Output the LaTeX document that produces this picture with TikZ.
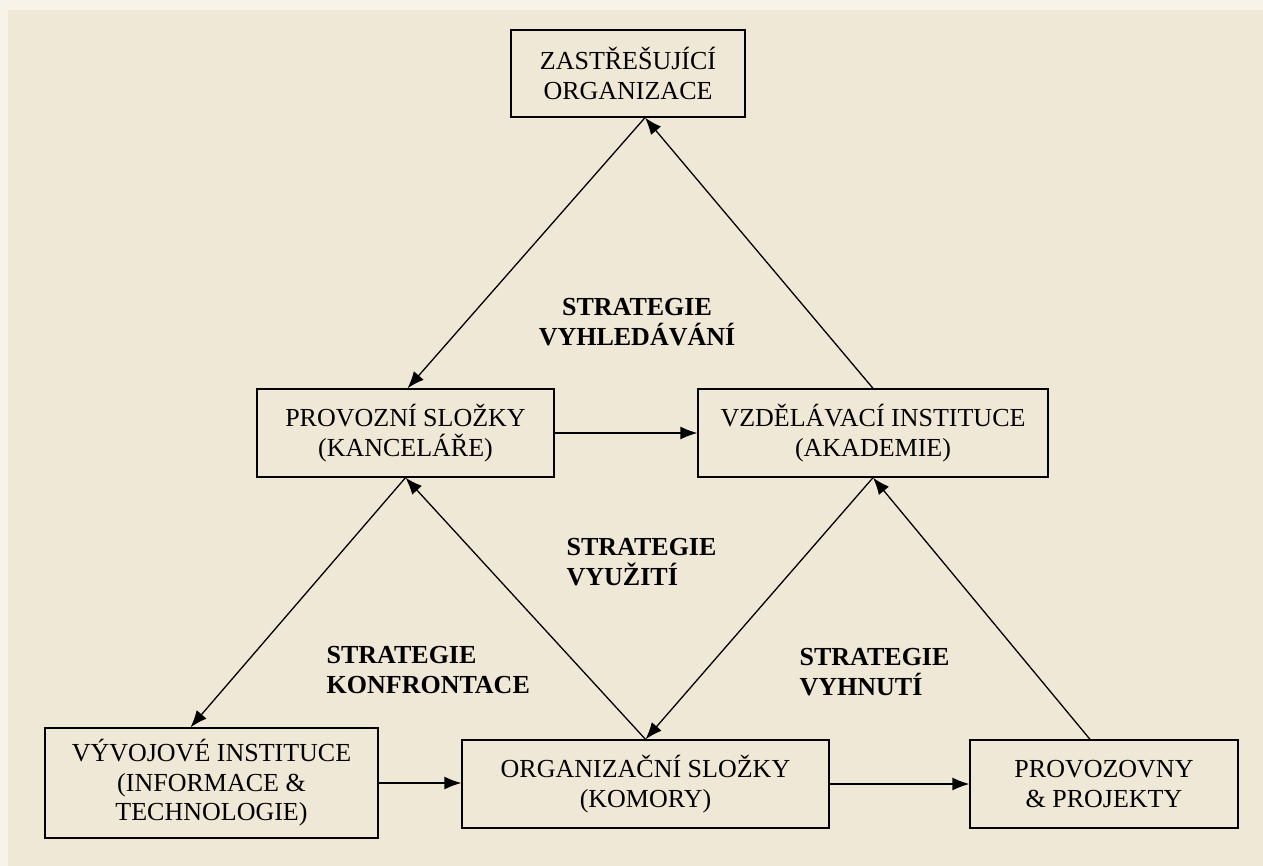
\documentclass[tikz,border=0pt]{standalone}
\usepackage{fontspec}
\setmainfont{Liberation Serif}
\usepackage{tikz}
\usetikzlibrary{arrows.meta}
\definecolor{edgepaper}{RGB}{248,243,232}
\definecolor{parchment}{RGB}{240,232,214}

\begin{document}
\begin{tikzpicture}[x=1pt, y=-1pt, line width=1.3pt,
    every node/.style={font=\fontsize{26}{29.5}\selectfont, inner sep=0pt},
    unit/.style={draw, align=center},
    strategy/.style={font=\fontsize{26}{30}\selectfont\bfseries},
    link/.style={-{Latex[length=17pt,width=13pt]}}]
    \useasboundingbox (0,0) rectangle (1263,866);
    \fill[edgepaper] (0,0) rectangle (1263,866);
    \fill[parchment] (8,10) rectangle (1263,866);
    \node[unit, minimum width=234pt, minimum height=87pt] (umbrella) at (628,73.5) {ZASTŘEŠUJÍCÍ\\ORGANIZACE};
    \node[unit, minimum width=297pt, minimum height=88pt] (offices) at (405.5,433) {PROVOZNÍ SLOŽKY\\(KANCELÁŘE)};
    \node[unit, minimum width=350pt, minimum height=88pt] (academy) at (873,433) {VZDĚLÁVACÍ INSTITUCE\\(AKADEMIE)};
    \node[unit, minimum width=333pt, minimum height=110pt] (research) at (211.5,783) {VÝVOJOVÉ INSTITUCE\\(INFORMACE \&\\TECHNOLOGIE)};
    \node[unit, minimum width=367pt, minimum height=88pt] (chambers) at (645.5,784) {ORGANIZAČNÍ SLOŽKY\\(KOMORY)};
    \node[unit, minimum width=268pt, minimum height=88pt] (projects) at (1104,784) {PROVOZOVNY\\\& PROJEKTY};
    \node[strategy, align=center] (search) at (637,322) {STRATEGIE\\VYHLEDÁVÁNÍ};
    \node[strategy, align=left, anchor=west] (use) at (566,562) {STRATEGIE\\VYUŽITÍ};
    \node[strategy, align=left, anchor=west] (confront) at (326,670) {STRATEGIE\\KONFRONTACE};
    \node[strategy, align=left, anchor=west] (avoid) at (799,672) {STRATEGIE\\VYHNUTÍ};
    \draw[link] ([xshift=17pt]umbrella.south) -- ([xshift=2pt]offices.north);
    \draw[link] (academy.north) -- ([xshift=17pt]umbrella.south);
    \draw[link] (offices.east) -- (academy.west);
    \draw[link] (chambers.north) -- (offices.south);
    \draw[link] (offices.south) -- ([xshift=-21pt]research.north);
    \draw[link] (academy.south) -- (chambers.north);
    \draw[link] ([xshift=-14pt]projects.north) -- (academy.south);
    \draw[link] (research.east) -- (research.east -| chambers.west);
    \draw[link] (chambers.east) -- (chambers.east -| projects.west);
\end{tikzpicture}
\end{document}
